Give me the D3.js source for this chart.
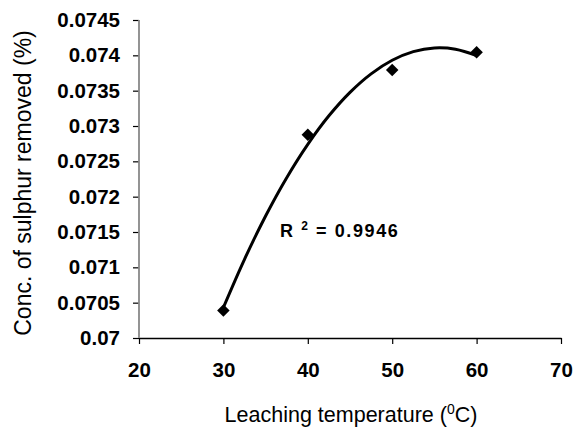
<!DOCTYPE html>
<html>
<head>
<meta charset="utf-8">
<script src="https://cdn.jsdelivr.net/npm/d3@7"></script>
<style>
  body { margin: 0; background: #fff; }
  svg { display: block; font-family: Arial, "Liberation Sans", sans-serif; }
</style>
</head>
<body>
<div id="chart"></div>
<script>
'use strict';

// Measured points (temperature in degrees C, sulphur removed in %).
const temperatures = [30, 40, 50, 60];
const sulphurRemoved = [0.07039, 0.072877, 0.073792, 0.074043];

// Polynomial trendline.
const trendTemps = [30, 32.5, 35, 37.5, 40, 42.5, 45, 47.5, 50, 52.5, 55, 57.5, 60];
const trendValues = [0.070432, 0.071114, 0.071727, 0.072269, 0.072741,
  0.073144, 0.073476, 0.073738, 0.07393, 0.074052, 0.074104, 0.074086, 0.073997];

const xTicks = [20, 30, 40, 50, 60, 70];
const yTicks = [0.07, 0.0705, 0.071, 0.0715, 0.072, 0.0725, 0.073, 0.0735, 0.074, 0.0745];
const rSquaredLabel = '0.9946';

const width = 574;
const height = 432;
const margins = {top: 20, right: 13, bottom: 94, left: 139};
const chartWidth = width - margins.left - margins.right;
const chartHeight = height - margins.top - margins.bottom;

const svg = d3.select('#chart').append('svg')
    .attr('width', width)
    .attr('height', height);

const chart = svg.append('g')
    .attr('transform', `translate(${margins.left},${margins.top})`);

const x = d3.scaleLinear().domain([20, 70]).range([0, chartWidth]);
const y = d3.scaleLinear().domain([0.07, 0.0745]).range([chartHeight, 0]);

// y axis: grey spine, black ticks.
const yAxis = chart.append('g')
    .call(d3.axisLeft(y).tickValues(yTicks).tickSize(6).tickPadding(13)
        .tickFormat(d => String(+d.toFixed(4))));
yAxis.select('.domain').remove();
yAxis.selectAll('.tick line').attr('stroke', '#000').attr('stroke-width', 1.2);
yAxis.selectAll('.tick text')
    .attr('font-size', 20.5)
    .attr('font-weight', 'bold')
    .attr('font-family', 'Arial, "Liberation Sans", sans-serif')
    .attr('fill', '#000');

// x axis
const xAxis = chart.append('g')
    .attr('transform', `translate(0,${chartHeight})`)
    .call(d3.axisBottom(x).tickValues(xTicks).tickSize(6).tickSizeOuter(0)
        .tickPadding(18));
xAxis.select('.domain').attr('stroke', '#000').attr('stroke-width', 1.5);
xAxis.selectAll('.tick line').attr('stroke', '#000').attr('stroke-width', 1.2);
xAxis.selectAll('.tick text')
    .attr('font-size', 20.5)
    .attr('font-weight', 'bold')
    .attr('font-family', 'Arial, "Liberation Sans", sans-serif')
    .attr('fill', '#000');

chart.append('line')
    .attr('x1', 0).attr('x2', 0)
    .attr('y1', 0).attr('y2', chartHeight)
    .attr('stroke', '#888')
    .attr('stroke-width', 1.8);

// Trendline
const line = d3.line()
    .x((d, i) => x(trendTemps[i]))
    .y(d => y(d))
    .curve(d3.curveCatmullRom);

chart.append('path')
    .datum(trendValues)
    .attr('d', line)
    .attr('fill', 'none')
    .attr('stroke', '#000')
    .attr('stroke-width', 3)
    .attr('stroke-linejoin', 'round');

// Diamond markers
const diamond = d3.symbol().type(d3.symbolSquare).size(78);
chart.selectAll('.marker')
    .data(sulphurRemoved)
    .enter()
    .append('path')
    .attr('class', 'marker')
    .attr('d', diamond)
    .attr('transform', (d, i) => `translate(${x(temperatures[i])},${y(d)}) rotate(45)`)
    .attr('fill', '#000');

// R squared label
const rText = chart.append('text')
    .attr('x', x(36.7))
    .attr('y', y(0.07143))
    .attr('font-size', 18)
    .attr('font-weight', 'bold')
    .attr('letter-spacing', 1.6)
    .attr('fill', '#000');
rText.append('tspan').text('R ');
rText.append('tspan').text('2').attr('font-size', 12).attr('dy', -7);
rText.append('tspan').text(` = ${rSquaredLabel}`).attr('dy', 7);

// Axis titles
const xTitle = svg.append('text')
    .attr('x', margins.left + chartWidth / 2 + 1)
    .attr('y', 422)
    .attr('text-anchor', 'middle')
    .attr('font-size', 21.5)
    .attr('fill', '#000');
xTitle.append('tspan').text('Leaching temperature (');
xTitle.append('tspan').text('0').attr('font-size', 14).attr('dy', -8);
xTitle.append('tspan').text('C)').attr('dy', 8);

svg.append('text')
    .attr('transform', `translate(31,${margins.top + chartHeight / 2 + 4}) rotate(-90)`)
    .attr('text-anchor', 'middle')
    .attr('font-size', 23)
    .attr('fill', '#000')
    .text('Conc. of sulphur removed (%)');
</script>
</body>
</html>
